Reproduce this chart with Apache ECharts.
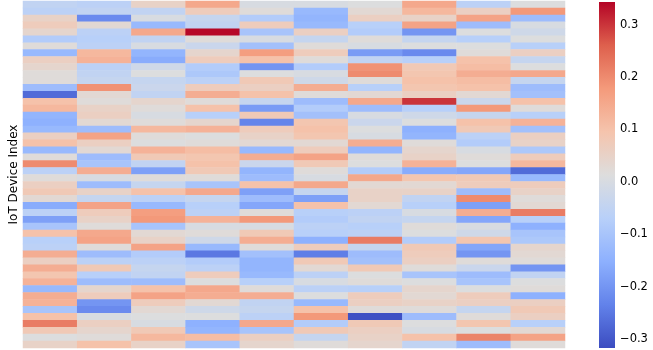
<!DOCTYPE html>
<html>
<head>
<meta charset="utf-8">
<script src="https://cdn.jsdelivr.net/npm/echarts@6/dist/echarts.min.js"></script>
<style>
	html, body { margin: 0; padding: 0; background: #fff; }
	#chart { width: 653px; height: 350px; }
</style>
</head>
<body>
<div id="chart"></div>
<script>
// rows = IoT devices (top to bottom), columns = features (left to right)
var deviceIndex = [];
for (var d = 0; d < 50; d++) deviceIndex.push(String(d));
var featureLabels = ['F1', 'F2', 'F3', 'F4', 'F5', 'F6', 'F7', 'F8', 'F9', 'F10'];

var col1 = [-0.05,-0.06,0.05,0.07,0.04,-0.08,0.02,-0.13,0.06,0.04,0.02,0.02,-0.12,-0.27,0.1,0.12,-0.14,-0.15,-0.13,0.06,0.1,-0.13,0.02,0.2,-0.06,0.02,0.06,0.08,0.03,-0.16,-0.06,-0.18,-0.1,0.1,-0.07,-0.06,0.14,0.06,0.14,0.09,0.13,-0.13,0.14,0.13,-0.1,0.1,0.22,0.08,0.01,0.05];
var col2 = [-0.06,-0.05,-0.22,0.03,-0.06,-0.07,-0.06,0.12,0.13,-0.06,-0.05,-0.04,0.19,0.03,0.02,0.05,0.06,0.03,-0.12,0.16,0.06,0.03,-0.12,-0.1,0.14,0.0,-0.12,0.05,-0.04,0.16,0.07,0.05,0.02,0.15,0.16,0.02,-0.12,-0.06,0.08,-0.07,-0.12,0.04,0.07,-0.2,-0.22,0.0,0.06,0.04,0.02,0.1];
var col3 = [0.05,-0.05,0.0,-0.13,0.15,-0.05,0.0,-0.14,-0.16,-0.02,0.01,-0.04,-0.03,-0.05,0.04,0.02,0.0,0.02,0.12,0.02,0.01,0.13,0.08,-0.05,-0.18,0.02,-0.04,0.1,-0.06,-0.13,0.17,0.18,-0.1,0.03,0.05,0.16,-0.08,-0.06,-0.04,-0.05,-0.12,0.1,0.16,0.07,0.03,0.01,0.0,0.08,0.12,0.05];
var col4 = [0.15,0.07,-0.04,-0.05,0.34,0.02,-0.03,0.04,0.07,-0.08,-0.09,-0.06,0.07,0.14,0.02,0.1,-0.07,0.04,0.13,0.01,0.02,0.11,0.09,0.1,0.08,0.02,-0.1,0.15,-0.04,-0.07,-0.06,0.13,0.0,0.02,-0.02,-0.13,-0.25,-0.08,-0.06,0.07,0.01,0.15,0.14,0.03,-0.02,0.01,-0.15,-0.14,0.11,-0.1];
var col5 = [0.0,0.02,-0.08,0.07,-0.1,0.0,-0.11,0.17,0.1,-0.2,0.01,0.08,0.06,0.1,-0.04,-0.19,0.08,-0.23,0.07,0.05,0.03,-0.13,0.14,-0.03,-0.14,-0.12,0.1,-0.18,-0.12,-0.17,0.02,0.18,0.0,0.08,0.14,0.02,-0.11,-0.14,-0.14,-0.13,-0.07,0.02,0.14,-0.05,-0.04,-0.06,0.15,-0.1,0.06,0.04];
var col6 = [0.0,-0.13,-0.14,-0.13,0.06,-0.04,0.02,0.07,0.02,-0.08,0.0,-0.02,0.14,0.02,-0.12,-0.08,-0.11,0.09,0.1,0.09,0.03,0.07,0.16,0.08,0.02,0.0,0.15,-0.04,-0.18,0.1,-0.07,-0.08,-0.06,-0.07,-0.15,0.07,-0.24,0.08,0.03,-0.06,0.0,-0.06,0.01,-0.13,0.1,0.18,-0.08,0.08,-0.04,0.02];
var col7 = [0.01,0.03,0.06,-0.07,-0.08,0.02,0.0,-0.19,-0.05,0.19,0.2,0.02,-0.07,0.03,0.15,-0.12,0.0,-0.03,0.01,0.0,0.14,-0.14,0.02,0.01,-0.08,0.15,0.03,0.05,0.05,0.03,-0.06,-0.05,-0.07,-0.06,0.22,-0.04,-0.12,-0.11,0.08,0.01,0.02,-0.07,0.07,0.06,0.02,-0.31,0.08,0.06,0.05,0.04];
var col8 = [0.15,0.12,0.05,0.16,-0.2,-0.04,0.01,-0.22,-0.07,0.08,0.09,0.1,0.09,0.06,0.3,-0.07,-0.02,0.01,-0.15,-0.14,0.02,0.04,0.05,0.13,-0.16,0.09,0.03,0.05,-0.05,-0.07,0.0,-0.04,0.02,0.01,-0.08,0.08,0.07,0.06,0.02,-0.1,0.01,0.04,0.03,0.05,0.02,-0.12,0.01,0.0,0.1,-0.05];
var col9 = [-0.06,0.06,0.16,-0.12,0.01,-0.07,0.01,0.02,0.1,0.11,0.14,0.11,0.1,0.03,-0.03,0.18,-0.04,0.1,0.08,-0.06,-0.08,0.0,0.02,0.01,-0.17,0.08,0.07,-0.12,0.2,-0.18,0.14,-0.17,0.0,-0.02,0.09,-0.17,-0.2,0.02,-0.03,-0.12,-0.1,0.01,0.07,0.06,-0.04,0.02,0.09,0.01,0.21,-0.12];
var col10 = [0.01,0.18,-0.12,0.0,-0.02,0.01,-0.07,0.06,-0.04,0.01,0.15,-0.04,-0.12,-0.11,0.1,0.02,-0.07,0.13,-0.11,0.06,0.05,-0.09,0.07,0.12,-0.27,-0.13,0.07,0.05,0.02,0.03,0.22,-0.07,-0.15,-0.1,-0.09,0.04,0.03,0.02,-0.2,-0.05,0.01,0.02,-0.15,0.06,0.08,0.06,-0.07,0.03,0.16,0.02];

var colorMin = -0.317;
var colorMax = 0.343;
var colorTicks = [-0.3, -0.2, -0.1, 0.0, 0.1, 0.2, 0.3];

// matplotlib coolwarm
var coolwarm = ['#3b4cc0', '#6282ea', '#8db0fe', '#b8d0f9', '#dddddd', '#f5c4ad', '#f49a7b', '#de604d', '#b40426'];

var columns = [col1, col2, col3, col4, col5, col6, col7, col8, col9, col10];
var cells = [];
for (var c = 0; c < columns.length; c++) {
	for (var r = 0; r < columns[c].length; r++) {
		cells.push([c, r, columns[c][r]]);
	}
}

var gradStops = [];
for (var k = 0; k < coolwarm.length; k++) {
	gradStops.push({ offset: k / (coolwarm.length - 1), color: coolwarm[coolwarm.length - 1 - k] });
}

var myChart = echarts.init(document.getElementById('chart'));
var option = {
	animation: false,
	textStyle: { fontFamily: 'DejaVu Sans' },
	grid: [
		{ left: 18, right: 88, top: 1, bottom: 2 },
		{ left: 599, width: 16, top: 2, height: 346 }
	],
	xAxis: [
		{
			type: 'category', data: featureLabels, gridIndex: 0,
			axisLine: { show: false }, axisTick: { show: false }, axisLabel: { show: false }, splitLine: { show: false }
		},
		{
			type: 'value', gridIndex: 1, min: 0, max: 1, show: false
		}
	],
	yAxis: [
		{
			type: 'category', data: deviceIndex, gridIndex: 0, inverse: true,
			name: 'IoT Device Index', nameLocation: 'middle', nameGap: 3,
			nameTextStyle: { fontSize: 12, color: '#000' },
			axisLine: { show: false }, axisTick: { show: false }, axisLabel: { show: false }, splitLine: { show: false }
		},
		{
			type: 'value', gridIndex: 1, position: 'right', min: colorMin, max: colorMax,
			axisLine: { show: false },
			splitLine: { show: false },
			axisTick: { show: true, length: 4, customValues: colorTicks, lineStyle: { color: '#000', width: 0.8 } },
			axisLabel: {
				customValues: colorTicks, margin: 5, fontSize: 11.5, color: '#000',
				formatter: function (v) { return v.toFixed(1).replace('-', '\u2212'); }
			}
		}
	],
	visualMap: {
		show: false, type: 'continuous', seriesIndex: 0, dimension: 2,
		min: colorMin, max: colorMax,
		inRange: { color: coolwarm }
	},
	series: [
		{
			type: 'heatmap', xAxisIndex: 0, yAxisIndex: 0, data: cells,
			itemStyle: { borderWidth: 0 },
			emphasis: { disabled: true }
		},
		{
			type: 'custom', xAxisIndex: 1, yAxisIndex: 1, silent: true,
			data: [[0, colorMin, 1, colorMax]],
			renderItem: function (params, api) {
				var p1 = api.coord([api.value(0), api.value(3)]);
				var p2 = api.coord([api.value(2), api.value(1)]);
				return {
					type: 'rect',
					shape: { x: p1[0], y: p1[1], width: p2[0] - p1[0], height: p2[1] - p1[1] },
					style: { fill: new echarts.graphic.LinearGradient(0, 0, 0, 1, gradStops) }
				};
			}
		}
	]
};
myChart.setOption(option);
</script>
</body>
</html>
